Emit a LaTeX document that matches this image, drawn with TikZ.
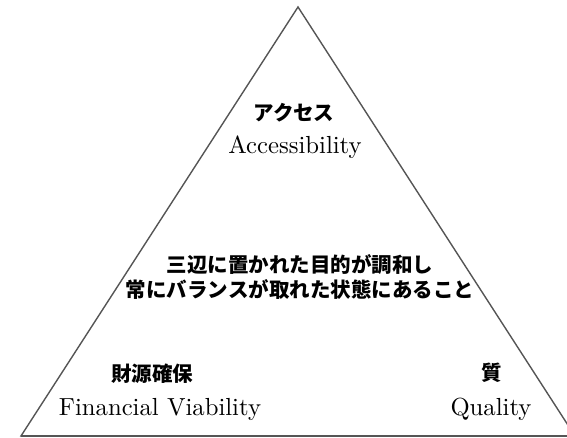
\documentclass[tikz,border=0pt]{standalone}
\usepackage{fontspec}
\newfontfamily\jpfont{Noto Sans CJK JP}
\usetikzlibrary{positioning}
\definecolor{edgegray}{RGB}{85,85,85}

\begin{document}
\begin{tikzpicture}[x=1pt,y=-1pt,
    jp/.style={inner sep=0pt,font=\jpfont\bfseries\fontsize{20.5}{25}\selectfont,align=center},
    en/.style={inner sep=0pt,anchor=base,scale=2.47,font=\normalsize}]
  \useasboundingbox (0,0) rectangle (567,438);
  \clip (0,0) rectangle (567,438);
  % corners of the triangle (the right one lies past the edge)
  \coordinate (top) at (298,7);
  \coordinate (bl) at (21,436);
  \coordinate (br) at (575,436);
  \draw[edgegray,line width=1.4pt,line join=miter] (top) -- (br) -- (bl) -- cycle;
  \draw[edgegray,line width=2.4pt] (bl) -- (br);
  % top corner
  \node[jp] (accjp) at (294,113) {アクセス};
  \node[en] (accen) at (295,154) {Accessibility};
  % centre text
  \node[jp,text depth=0pt] (goal) at (300,276) {三辺に置かれた目的が調和し\\常にバランスが取れた状態にあること};
  % bottom left
  \node[jp] (finjp) at (152,374) {財源確保};
  \node[en] (finen) at (160,415) {Financial Viability};
  % bottom right
  \node[jp] (qualjp) at (492,373) {質};
  \node[en] (qualen) at (491,415) {Quality};
\end{tikzpicture}
\end{document}
